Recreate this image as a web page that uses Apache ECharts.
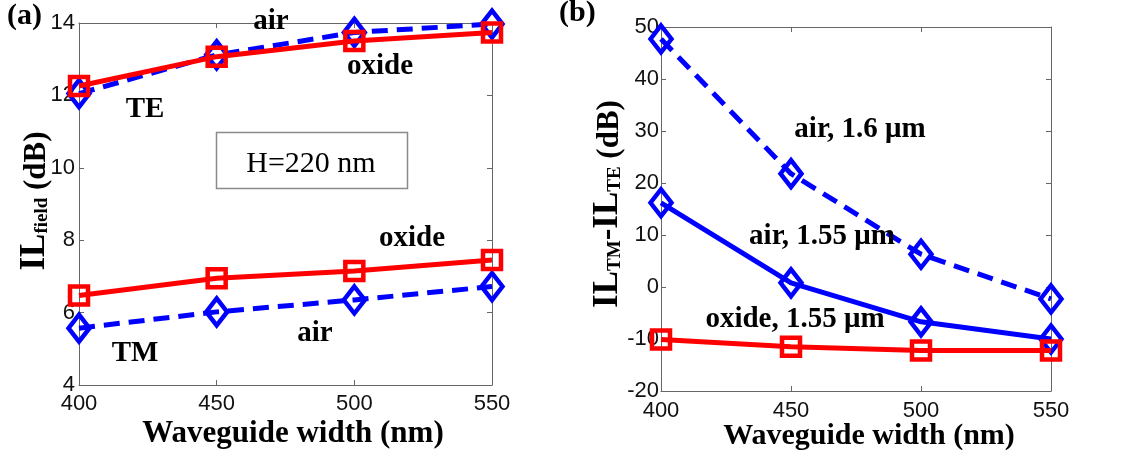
<!DOCTYPE html>
<html>
<head>
<meta charset="utf-8">
<script src="https://cdn.jsdelivr.net/npm/echarts@6/dist/echarts.min.js"></script>
<style>
  html, body { margin: 0; padding: 0; background: #fff; }
  #chart { width: 1121px; height: 459px; }
</style>
</head>
<body>
<div id="chart"></div>
<script>
// Waveguide widths (nm) shared by both panels
const widths = [400, 450, 500, 550];

// (a) insertion loss of the field, dB
const teAir   = [12.05, 13.12, 13.74, 13.97];
const teOxide = [12.26, 13.07, 13.5, 13.74];
const tmOxide = [6.47, 6.95, 7.15, 7.45];
const tmAir   = [5.57, 6.02, 6.35, 6.72];

// (b) IL_TM - IL_TE, dB
const diffAir160   = [47.7, 21.8, 6.3, -2.3];
const diffAir155   = [16.2, 0.8, -6.7, -10];
const diffOxide155 = [-10.1, -11.5, -12.2, -12.2];

// axis ranges / ticks
const xTicks = { min: 400, max: 550, interval: 50 };
const yTicksA = { min: 4, max: 14, interval: 2 };
const yTicksB = { min: -20, max: 50, interval: 10 };

const BLUE = '#0000ff';
const RED = '#ff0000';
const AXIS = '#666';
const SERIF = '"Liberation Serif", "Times New Roman", serif';
const SANS = '"Liberation Sans", Arial, sans-serif';

function pts(vals) { return widths.map((w, i) => [w, vals[i]]); }

function series(name, xi, yi, vals, color, kind, dashed) {
  return {
    name, type: 'line', xAxisIndex: xi, yAxisIndex: yi,
    data: pts(vals),
    symbol: kind === 'diamond' ? 'diamond' : 'rect',
    symbolSize: kind === 'diamond' ? [21, 27] : [18, 18],
    lineStyle: { color, width: 5, type: dashed ? [16, 9] : 'solid' },
    itemStyle: { color: 'rgba(255,255,255,0)', borderColor: color, borderWidth: 4.5 },
    emphasis: { disabled: true },
    clip: false,
    z: color === RED ? 3 : 2
  };
}

function xAxisPair(gridIndex, margin) {
  const base = {
    type: 'value', gridIndex, ...xTicks,
    splitLine: { show: false },
    axisLine: { show: true, onZero: false, lineStyle: { color: AXIS, width: 1 } },
    axisTick: { show: true, inside: true, length: 5, lineStyle: { color: AXIS } }
  };
  return [
    { ...base, position: 'bottom',
      axisLabel: { color: '#111', fontFamily: SANS, fontSize: 22, margin } },
    { ...base, position: 'top', axisLabel: { show: false } }
  ];
}

function yAxisPair(gridIndex, ticks, margin) {
  const base = {
    type: 'value', gridIndex, ...ticks,
    splitLine: { show: false },
    axisLine: { show: true, onZero: false, lineStyle: { color: AXIS, width: 1 } },
    axisTick: { show: true, inside: true, length: 5, lineStyle: { color: AXIS } }
  };
  return [
    { ...base, position: 'left',
      axisLabel: { color: '#111', fontFamily: SANS, fontSize: 22, margin } },
    { ...base, position: 'right', axisLabel: { show: false } }
  ];
}

// text annotation centred at (x, baseline)
function note(text, x, baseline, size, weight) {
  return {
    type: 'text', x, y: baseline - 0.3 * size, z: 10,
    style: {
      text, fill: '#000', font: `${weight || 'bold'} ${size}px ${SERIF}`,
      align: 'center', verticalAlign: 'middle'
    }
  };
}

const titleRich = {
  big: { fontFamily: SERIF, fontWeight: 'bold', fontSize: 35, lineHeight: 36, verticalAlign: 'bottom', fill: '#000' },
  sub: { fontFamily: SERIF, fontWeight: 'bold', fontSize: 19, lineHeight: 15, verticalAlign: 'bottom', fill: '#000' },
  unit: { fontFamily: SERIF, fontWeight: 'bold', fontSize: 31, lineHeight: 36, verticalAlign: 'bottom', fill: '#000' }
};

const chart = echarts.init(document.getElementById('chart'), null, { renderer: 'canvas' });

chart.setOption({
  animation: false,
  backgroundColor: '#fff',
  grid: [
    { left: 79, right: 1121 - 492, top: 23, bottom: 459 - 385 },
    { left: 661, right: 1121 - 1051, top: 27, bottom: 459 - 391 }
  ],
  xAxis: [...xAxisPair(0, 8), ...xAxisPair(1, 9)],
  yAxis: [...yAxisPair(0, yTicksA, 4), ...yAxisPair(1, yTicksB, 2)],
  series: [
    series('TE air', 0, 0, teAir, BLUE, 'diamond', true),
    series('TE oxide', 0, 0, teOxide, RED, 'rect', false),
    series('TM air', 0, 0, tmAir, BLUE, 'diamond', true),
    series('TM oxide', 0, 0, tmOxide, RED, 'rect', false),
    series('air, 1.6 μm', 2, 2, diffAir160, BLUE, 'diamond', true),
    series('air, 1.55 μm', 2, 2, diffAir155, BLUE, 'diamond', false),
    series('oxide, 1.55 μm', 2, 2, diffOxide155, RED, 'rect', false)
  ],
  graphic: [
    // panel tags
    { type: 'text', x: 7, y: 16, z: 10,
      style: { text: '(a)', fill: '#000', font: `bold 30px ${SERIF}`, align: 'left', verticalAlign: 'middle' } },
    { type: 'text', x: 559, y: 13, z: 10,
      style: { text: '(b)', fill: '#000', font: `bold 30px ${SERIF}`, align: 'left', verticalAlign: 'middle' } },

    // (a) annotations
    note('air', 271, 30, 29),
    note('oxide', 380, 75, 29),
    note('TE', 145, 118, 29),
    note('oxide', 412, 247, 29),
    note('air', 315, 342, 29),
    note('TM', 135, 362, 29),
    { type: 'rect', z: 9,
      shape: { x: 216.5, y: 132.5, width: 191, height: 56 },
      style: { fill: '#fff', stroke: '#8a8a8a', lineWidth: 1.5 } },
    note('H=220 nm', 311, 173, 30, 'normal'),

    // (b) annotations
    note('air, 1.6 μm', 860, 138, 29),
    note('air, 1.55 μm', 822, 245, 29),
    note('oxide, 1.55 μm', 795, 328, 29),

    // axis titles
    note('Waveguide width (nm)', 293, 443, 31),
    note('Waveguide width (nm)', 869, 445, 30),
    { type: 'text', x: 34, y: 201, rotation: Math.PI / 2, z: 10,
      style: { text: '{big|IL}{sub|field}{unit| (dB)}', rich: titleRich,
               align: 'center', verticalAlign: 'middle' } },
    { type: 'text', x: 607, y: 204, rotation: Math.PI / 2, z: 10,
      style: { text: '{big|IL}{sub|TM}{big|-IL}{sub|TE}{unit| (dB)}', rich: titleRich,
               align: 'center', verticalAlign: 'middle' } }
  ]
});
</script>
</body>
</html>
